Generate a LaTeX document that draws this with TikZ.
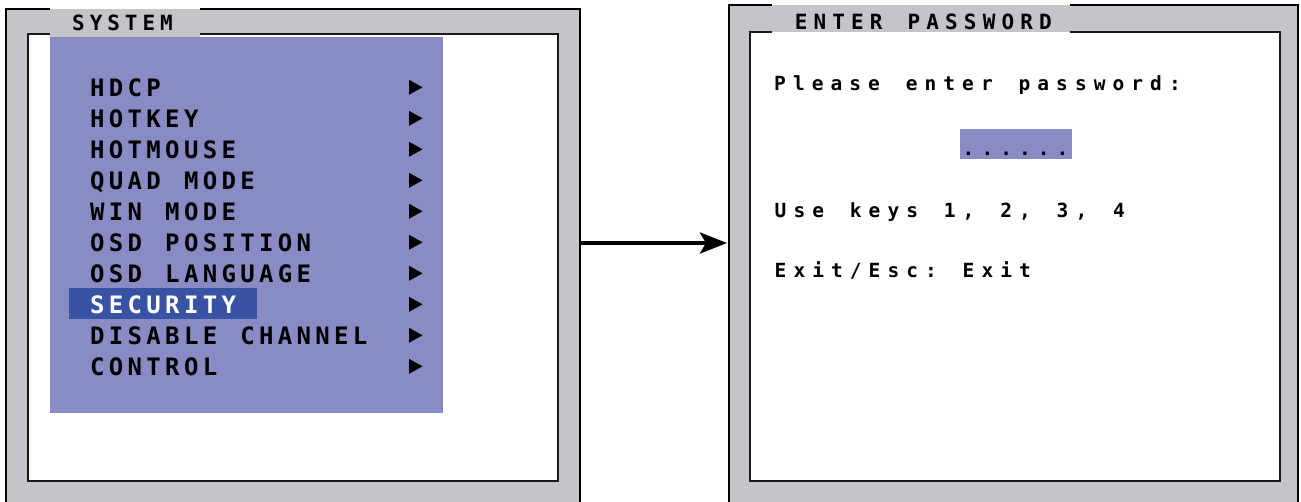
\documentclass[tikz,border=0pt]{standalone}
\usepackage{fontspec}
\usetikzlibrary{arrows.meta}
\newfontfamily\osdfont{DejaVu Sans Mono}
\ExplSyntaxOn
\cs_generate_variant:Nn \str_map_inline:nn { e }
\NewDocumentCommand\monotext{mm}{ \str_map_inline:en {#2} { \makebox[#1][c]{##1} } }
\ExplSyntaxOff
\definecolor{panelgray}{RGB}{196,197,202}
\definecolor{menupurple}{RGB}{137,139,196}
\definecolor{hilite}{RGB}{57,83,164}
\tikzset{
  outerline/.style={draw=black, line width=1.3pt},
  innerline/.style={draw=black!90, line width=2.4pt},
  menutext/.style={anchor=base west, inner sep=0pt, font=\osdfont\bfseries\fontsize{24}{24}\selectfont},
  pwtext/.style={anchor=base west, inner sep=0pt, font=\osdfont\bfseries\fontsize{19.5}{19.5}\selectfont},
  titletext/.style={anchor=base west, inner sep=0pt, font=\osdfont\bfseries\fontsize{21}{21}\selectfont},
  frame/.style={fill=panelgray, inner sep=0pt, anchor=north west},
  flow/.style={line width=4.5pt, -{Stealth[length=27pt,width=21pt,inset=6pt]}}
}
\begin{document}
\begin{tikzpicture}[x=1pt,y=-1pt]
\useasboundingbox (0,0) rectangle (1301,501);
\clip (0,0) rectangle (1301,501);
% ---------- left panel ----------
\node[frame, minimum width=574pt, minimum height=502pt] (sys) at (6,9) {};
\draw[outerline] (50,9) -- (6,9) -- (6,515);
\draw[outerline] (200,9) -- (580,9) -- (580,515);
\fill[white] (28,34) rectangle (558,481);
\draw[innerline] (50,34) -- (28,34) -- (28,481) -- (558,481) -- (558,34) -- (200,34);
\fill[panelgray] (50,10) rectangle (200,36.5);
\node[titletext] (systitle) at (69.5,30) {\monotext{17.6pt}{SYSTEM}};
\fill[menupurple] (50,37) rectangle (443,413);
\fill[hilite] (69,288) rectangle (257,319);
\foreach \t [count=\i from 0] in {HDCP,HOTKEY,HOTMOUSE,QUAD MODE,WIN MODE,OSD POSITION,OSD LANGUAGE,SECURITY,DISABLE CHANNEL,CONTROL}{
  \pgfmathsetmacro{\by}{96+31*\i}
  \ifnum\i=7
    \node[menutext, text=white] (m\i) at (87.8,\by) {\monotext{18.77pt}{\t}};
  \else
    \node[menutext] (m\i) at (87.8,\by) {\monotext{18.77pt}{\t}};
  \fi
  \fill (409,\by-16.2) -- (422.5,\by-8.7) -- (409,\by-1.2) -- cycle;
}
% ---------- right panel ----------
\node[frame, minimum width=568pt, minimum height=506pt] (pw) at (729,5) {};
\draw[outerline] (772,5) -- (729,5) -- (729,515);
\draw[outerline] (1070,5) -- (1298,5) -- (1298,515);
\fill[white] (750,32) rectangle (1280,481);
\draw[innerline] (772,32) -- (750,32) -- (750,481) -- (1280,481) -- (1280,32) -- (1070,32);
\fill[panelgray] (772,6) rectangle (1070,31);
\node[titletext] (pwtitle) at (791.5,29.5) {\monotext{18.8pt}{ENTER PASSWORD}};
\node[pwtext] (please) at (770.5,90) {\monotext{18.8pt}{Please enter password:}};
\fill[menupurple] (959.5,128.5) rectangle (1071.5,159);
\node[pwtext] (dots) at (959,155) {\monotext{18.8pt}{......}};
\node[pwtext] (keys) at (771,217) {\monotext{18.8pt}{Use keys 1, 2, 3, 4}};
\node[pwtext] (exit) at (771,277) {\monotext{18.8pt}{Exit/Esc: Exit}};
% ---------- arrow ----------
\draw[flow] (sys.east |- 0,243) -- ([xshift=-2pt]pw.west |- 0,243);
\end{tikzpicture}
\end{document}
